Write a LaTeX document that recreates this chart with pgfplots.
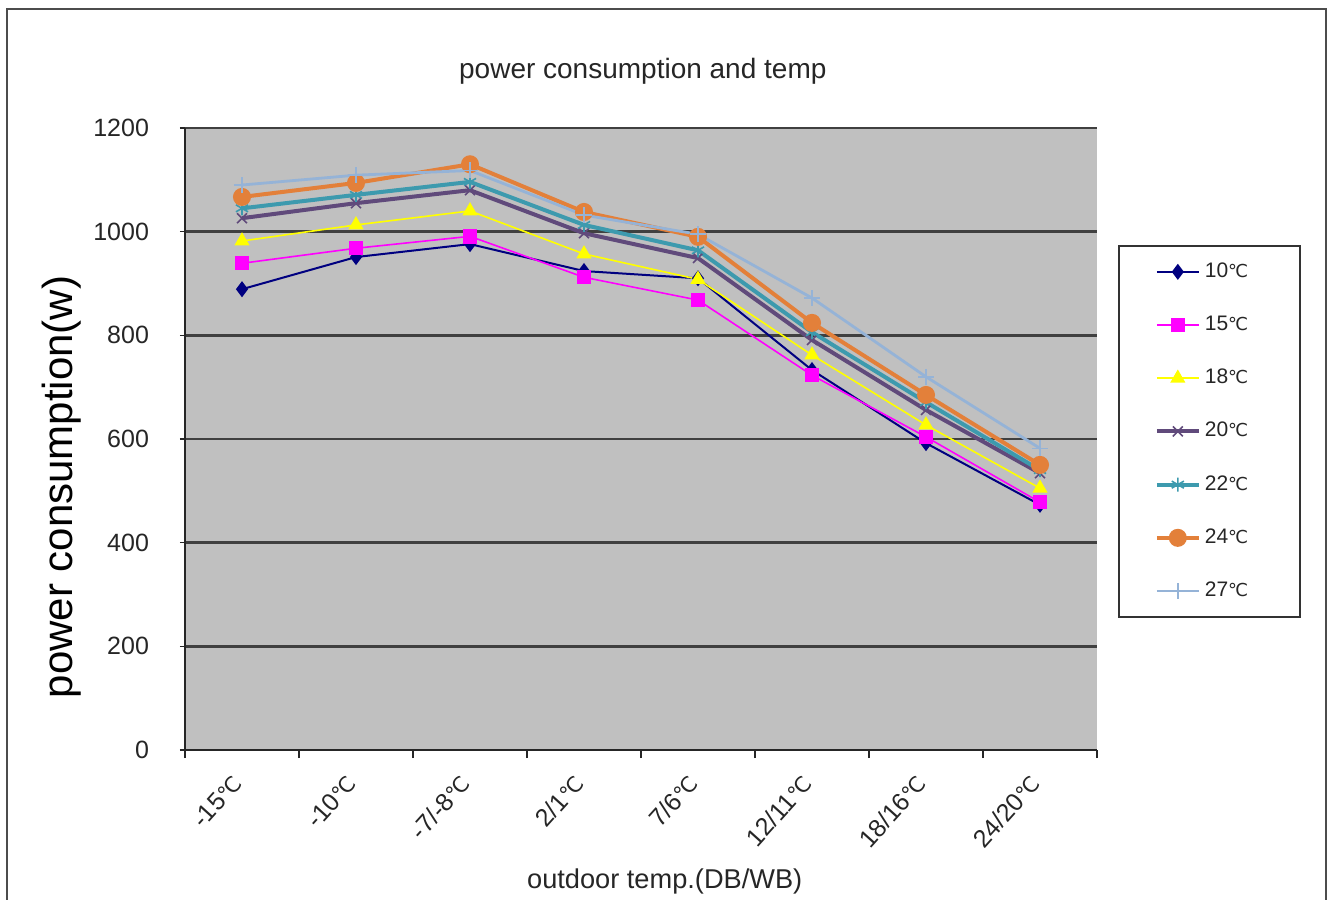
\documentclass[border=0pt]{standalone}
\usepackage{pgfplots}
\pgfplotsset{compat=1.18}
\usepackage{pgfplotstable}
\usepackage{fontspec}
\setmainfont{Liberation Sans}
\newfontfamily\dejavu[Scale=0.85]{DejaVu Sans}
\newcommand{\dc}{{\dejavu ℃}}
\definecolor{plotbg}{RGB}{192,192,192}
\definecolor{cA}{RGB}{0,0,128}
\definecolor{cB}{RGB}{255,0,255}
\definecolor{cC}{RGB}{255,255,0}
\definecolor{cD}{RGB}{96,74,123}
\definecolor{cE}{RGB}{61,154,174}
\definecolor{cF}{RGB}{227,128,58}
\definecolor{cG}{RGB}{149,179,215}
\pgfplotstableread{
x  a    b    c    d    e    f    g
0  889  939  982  1026 1045 1067 1090
1  951  968  1013 1055 1071 1094 1109
2  976  991  1040 1080 1096 1130 1118
3  924  912  957  997  1013 1038 1032
4  910  868  908  949  964  990  995
5  733  723  762  791  806  824  872
6  592  604  627  656  671  685  720
7  473  478  505  534  540  550  582
}\data
\begin{document}
\begin{tikzpicture}
\path[use as bounding box] (-92.5pt,-74.5pt) rectangle (573pt,375pt);
\fill[white] (-92.5pt,-74.5pt) rectangle (573pt,375pt);
\draw[line width=1.2pt, black!70] (-89pt,-80pt) -- (-89pt,370.5pt) -- (570.5pt,370.5pt) -- (570.5pt,-80pt);
\begin{axis}[
  at={(0pt,0pt)}, anchor=south west,
  width=456pt, height=311pt, scale only axis,
  xmin=-0.5, xmax=7.5, ymin=0, ymax=1200,
  axis lines=left, axis line style={-, line width=1pt, black!85},
  axis background/.style={fill=plotbg},
  xtick={0,...,7},
  xticklabels={-15\dc,-10\dc,-7/-8\dc,2/1\dc,7/6\dc,12/11\dc,18/16\dc,24/20\dc},
  major x tick style={draw=none},
  minor xtick={-0.5,0.5,...,7.5},
  minor x tick style={black!85, line width=0.8pt},
  minor tick length=4pt,
  ytick={0,200,...,1200},
  major tick length=2.5pt,
  tick align=outside,
  y tick style={black!85, line width=0.8pt},
  ymajorgrids,
  major grid style={black!75, line width=1.4pt},
  /pgf/number format/assume math mode=true,
  /pgf/number format/set thousands separator={},
  tick label style={font=\fontsize{12.5}{14}\selectfont, text=black!85},
  yticklabel style={anchor=east, xshift=-12pt},
  xticklabel style={xshift=0pt, yshift=-9.5pt, rotate=48, anchor=east},
  title={power consumption and temp},
  title style={at={(axis description cs:0.502,1.0965)}, anchor=center, yshift=-7.5pt, font=\fontsize{14}{16}\selectfont, text=black!85},
  xlabel={outdoor temp.(DB/WB)},
  xlabel style={at={(axis description cs:0.526,-0.212)}, anchor=center, font=\fontsize{13.6}{15}\selectfont, text=black!85},
  ylabel={power consumption(w)},
  ylabel style={at={(axis description cs:-0.135,0.423)}, anchor=center, font=\fontsize{21}{25}\selectfont},
  legend cell align=left,
  legend image code/.code={
    \draw[#1, mark=none] (0cm,0cm) -- (0.74cm,0cm);
    \draw[#1, only marks] plot coordinates {(0.37cm,0cm)};
  },
  legend style={at={(axis description cs:1.023,0.812)}, anchor=north west,
    draw=black!80, line width=0.8pt, fill=white,
    font=\fontsize{10.5}{12}\selectfont, text=black!85,
    nodes={text height=7.5pt, text depth=2pt, inner ysep=0pt},
    row sep=17.1pt, inner ysep=8.3pt, inner xsep=18pt},
]
\addplot[cA, line width=1pt, mark=diamond*, mark size=3.2pt, mark options={fill=cA}] table[x=x,y=a]{\data};
\addlegendentry{10\dc\hspace*{6pt}}
\addplot[cB, line width=0.8pt, mark=square*, mark size=3.2pt, mark options={fill=cB}] table[x=x,y=b]{\data};
\addlegendentry{15\dc}
\addplot[cC, line width=0.8pt, mark=triangle*, mark size=3.6pt, mark options={fill=cC}] table[x=x,y=c]{\data};
\addlegendentry{18\dc}
\addplot[cD, line width=2pt, mark=x, mark size=3.5pt, mark options={line width=0.8pt}] table[x=x,y=d]{\data};
\addlegendentry{20\dc}
\addplot[cE, line width=2pt, mark=asterisk, mark size=3.5pt, mark options={line width=0.8pt}] table[x=x,y=e]{\data};
\addlegendentry{22\dc}
\addplot[cF, line width=2pt, mark=*, mark size=3.5pt, mark options={fill=cF}] table[x=x,y=f]{\data};
\addlegendentry{24\dc}
\addplot[cG, line width=1.4pt, mark=+, mark size=4pt, mark options={line width=0.8pt}] table[x=x,y=g]{\data};
\addlegendentry{27\dc}
\end{axis}
\end{tikzpicture}
\end{document}
